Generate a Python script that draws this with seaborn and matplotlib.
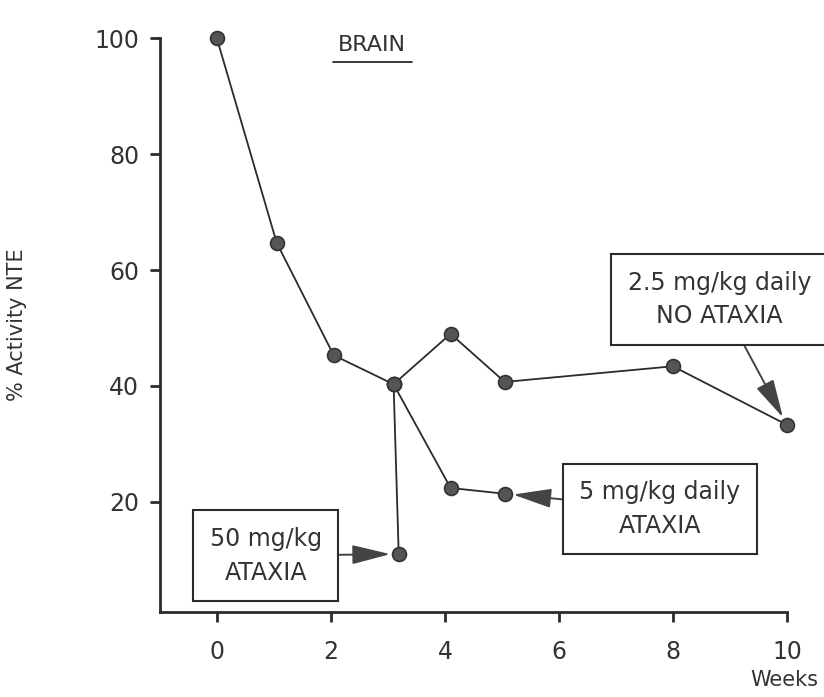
import pandas as pd
import matplotlib
matplotlib.use('Agg')
import matplotlib.pyplot as plt
import seaborn as sns

# data (weeks, % activity NTE)
main_weeks = [0, 1.05, 2.05, 3.1, 4.1, 5.05, 8.0, 10.0]
main_act = [100, 64.7, 45.3, 40.3, 49.0, 40.7, 43.4, 33.3]

dose5_weeks = [3.1, 4.1, 5.05]
dose5_act = [40.3, 22.4, 21.4]

dose50_weeks = [3.1, 3.19]
dose50_act = [40.3, 11.0]

xticks = [0, 2, 4, 6, 8, 10]
yticks = [20, 40, 60, 80, 100]

df = pd.concat([
    pd.DataFrame({'weeks': main_weeks, 'act': main_act, 'series': '2.5 mg/kg'}),
    pd.DataFrame({'weeks': dose5_weeks, 'act': dose5_act, 'series': '5 mg/kg'}),
    pd.DataFrame({'weeks': dose50_weeks, 'act': dose50_act, 'series': '50 mg/kg'}),
])

sns.set_style('ticks')
plt.rcParams['font.family'] = ['DejaVu Sans']
ink = '#2b2b2b'
txt = '#333333'

fig = plt.figure(figsize=(8.24, 6.97), dpi=100)
ax = fig.add_axes([0.194, 0.122, 0.761, 0.823])

sns.lineplot(data=df, x='weeks', y='act', units='series', estimator=None,
             sort=False, color=ink, lw=1.3, marker='o', markersize=10,
             markerfacecolor='#555555', markeredgecolor='#333333',
             markeredgewidth=1.2, ax=ax, clip_on=False)

ax.set_xlim(-1, 10)
ax.set_ylim(1, 100)
ax.set_xticks(xticks)
ax.set_yticks(yticks)
ax.tick_params(axis='both', direction='out', length=7, width=2, colors=ink,
               labelsize=17, labelcolor=txt, pad=8)
ax.tick_params(axis='x', pad=13)
for s in ['left', 'bottom']:
    ax.spines[s].set_linewidth(2)
    ax.spines[s].set_color(ink)
sns.despine(ax=ax)

ax.set_xlabel('')
ax.set_ylabel('% Activity NTE', fontsize=15, color=txt, labelpad=48)
fig.text(0.993, 0.024, 'Weeks', fontsize=15, color=txt, ha='right', va='center')

# title with underline
ax.text(2.72, 98.8, 'BRAIN', fontsize=16, color=txt, ha='center', va='center')
ax.plot([2.03, 3.42], [96.0, 96.0], color=ink, lw=1.3, clip_on=False)

box = dict(boxstyle='square,pad=0.7', fc='white', ec=ink, lw=1.5)
arrow = dict(arrowstyle='-|>,head_length=1.4,head_width=0.35', color='#444444',
             lw=1.4, shrinkA=0, shrinkB=6)

ax.annotate('2.5 mg/kg daily\nNO ATAXIA', xy=(10.0, 33.3), xytext=(8.82, 54.9),
            ha='center', va='center', fontsize=17, color=txt, linespacing=1.5,
            bbox=box, arrowprops=arrow, annotation_clip=False)
ax.annotate('5 mg/kg daily\nATAXIA', xy=(5.05, 21.4), xytext=(7.77, 18.8),
            ha='center', va='center', fontsize=17, color=txt, linespacing=1.5,
            bbox=box, arrowprops=arrow, annotation_clip=False)
ax.annotate('50 mg/kg\nATAXIA', xy=(3.19, 11.0), xytext=(0.86, 10.7),
            ha='center', va='center', fontsize=17, color=txt, linespacing=1.5,
            bbox=box, arrowprops=arrow, annotation_clip=False)

fig.savefig('out.png', dpi=100)
